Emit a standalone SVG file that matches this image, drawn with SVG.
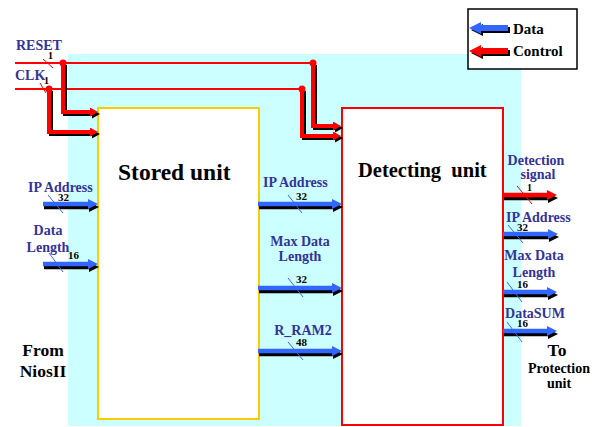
<svg xmlns="http://www.w3.org/2000/svg" width="599" height="427" viewBox="0 0 599 427">
<style>
text{font-family:"Liberation Serif","Times New Roman",Times,"DejaVu Serif",serif;font-weight:bold}
.lbl{font-size:14px;fill:#333399}
.num{font-size:11px;fill:#000}
.one{font-size:10px;fill:#000}
.blk{fill:#000}
.title{fill:#000;white-space:pre}
.thin{fill:none;stroke:#ff0000;stroke-width:2}
.ctl{fill:none;stroke:#ff0000;stroke-width:4;marker-end:url(#rh)}
.ctls{fill:none;stroke:#000;stroke-width:4;marker-end:url(#kh)}
.dat{fill:none;stroke:#3366ff;stroke-width:4.5;marker-end:url(#bh)}
.dats{fill:none;stroke:#000;stroke-width:4.5;marker-end:url(#kh2)}
.datr{fill:none;stroke:#ff0000;stroke-width:4.5;marker-end:url(#rh2)}
.sl{stroke:#3366ff;stroke-width:1}
.slr{stroke:#ff0000;stroke-width:1}
</style>
<defs>
<marker id="rh" markerUnits="userSpaceOnUse" markerWidth="8" markerHeight="9" viewBox="0 0 8 9" refX="0" refY="4.5" orient="auto"><path d="M0,0 L8,4.5 L0,9 z" fill="#ff0000"/></marker>
<marker id="kh" markerUnits="userSpaceOnUse" markerWidth="8" markerHeight="9" viewBox="0 0 8 9" refX="0" refY="4.5" orient="auto"><path d="M0,0 L8,4.5 L0,9 z" fill="#000"/></marker>
<marker id="bh" markerUnits="userSpaceOnUse" markerWidth="10" markerHeight="10" viewBox="0 0 10 10" refX="0" refY="5" orient="auto"><path d="M0,0 L10,5 L0,10 z" fill="#3366ff"/></marker>
<marker id="rh2" markerUnits="userSpaceOnUse" markerWidth="10" markerHeight="10" viewBox="0 0 10 10" refX="0" refY="5" orient="auto"><path d="M0,0 L10,5 L0,10 z" fill="#ff0000"/></marker>
<marker id="kh2" markerUnits="userSpaceOnUse" markerWidth="10" markerHeight="10" viewBox="0 0 10 10" refX="0" refY="5" orient="auto"><path d="M0,0 L10,5 L0,10 z" fill="#000"/></marker>
</defs>
<rect width="599" height="427" fill="#ffffff"/>
<rect id="background" x="68" y="54" width="453" height="372" fill="#ccffff"/>

<g id="stored-unit">
<rect x="98" y="108" width="161" height="311" fill="#ffffff" stroke="#ffcc00" stroke-width="2"/>
<text class="title" x="118" y="180" font-size="23.5">Stored unit</text>
</g>
<g id="detecting-unit">
<rect x="342" y="108" width="161" height="317" fill="#ffffff" stroke="#ff0000" stroke-width="2"/>
<text class="title" x="358" y="177" font-size="20.5">Detecting  unit</text>
</g>

<g id="legend">
<rect x="468" y="9" width="109" height="60" fill="#ffffff" stroke="#000" stroke-width="1.5"/>
<path d="M471,30 L483,24 L483,27 L510,27 L510,33 L483,33 L483,36 z" fill="#000"/>
<path d="M469,28 L481,22 L481,25 L508,25 L508,31 L481,31 L481,34 z" fill="#3366ff"/>
<path d="M471,53 L483,47 L483,50 L510,50 L510,56 L483,56 L483,59 z" fill="#000"/>
<path d="M469,51 L481,45 L481,48 L508,48 L508,54 L481,54 L481,57 z" fill="#ff0000"/>
<text class="blk" x="513" y="34" font-size="15">Data</text>
<text class="blk" x="513" y="56" font-size="15">Control</text>
</g>

<g id="connectors">
<path class="thin" d="M15,63 H313"/>
<path class="thin" d="M15,89 H302"/>
<g transform="translate(2,2)">
<path class="ctls" d="M63,63 V112 H90"/>
<path class="ctls" d="M49,89 V132 H90"/>
<path class="ctls" d="M313,63 V126 H333"/>
<path class="ctls" d="M302,89 V136 H333"/>
</g>
<path class="ctl" d="M63,63 V112 H90"/>
<path class="ctl" d="M49,89 V132 H90"/>
<path class="ctl" d="M313,63 V126 H333"/>
<path class="ctl" d="M302,89 V136 H333"/>
<circle cx="63" cy="63" r="3.5" fill="#ff0000"/>
<circle cx="49" cy="89" r="3.5" fill="#ff0000"/>
<circle cx="313" cy="63" r="3.5" fill="#ff0000"/>
<circle cx="302" cy="89" r="3.5" fill="#ff0000"/>
<line class="slr" x1="43" y1="59" x2="53" y2="68"/>
<line class="slr" x1="40" y1="83" x2="46" y2="93"/>

<g transform="translate(1,3)">
<path class="dats" d="M43,204 H88"/>
<path class="dats" d="M43,264 H88"/>
<path class="dats" d="M258,204 H332"/>
<path class="dats" d="M258,288 H332"/>
<path class="dats" d="M258,351 H332"/>
<path class="dats" d="M503,195 H547"/>
<path class="dats" d="M503,234 H548"/>
<path class="dats" d="M503,292 H547"/>
<path class="dats" d="M503,331 H547"/>
</g>
<path class="dat" d="M43,204 H88"/>
<path class="dat" d="M43,264 H88"/>
<path class="dat" d="M258,204 H332"/>
<path class="dat" d="M258,288 H332"/>
<path class="dat" d="M258,351 H332"/>
<path class="datr" d="M503,195 H547"/>
<path class="dat" d="M503,234 H548"/>
<path class="dat" d="M503,292 H547"/>
<path class="dat" d="M503,331 H547"/>

<line class="sl" x1="48" y1="195" x2="63" y2="213"/>
<line class="sl" x1="49" y1="253" x2="63" y2="272"/>
<line class="sl" x1="288" y1="195" x2="302" y2="213"/>
<line class="sl" x1="288" y1="278" x2="303" y2="297"/>
<line class="sl" x1="288" y1="342" x2="303" y2="360"/>
<line class="slr" x1="517" y1="186" x2="532" y2="204"/>
<line class="sl" x1="508" y1="225" x2="523" y2="243"/>
<line class="sl" x1="507" y1="282" x2="522" y2="302"/>
<line class="sl" x1="507" y1="322" x2="522" y2="342"/>

<text class="one" x="48" y="59">1</text>
<text class="one" x="44" y="84">1</text>
<text class="num" x="58" y="201">32</text>
<text class="num" x="68" y="259">16</text>
<text class="num" x="296" y="200">32</text>
<text class="num" x="296" y="283">32</text>
<text class="num" x="296" y="346">48</text>
<text class="one" x="527" y="191">1</text>
<text class="num" x="517" y="231">32</text>
<text class="num" x="517" y="288">16</text>
<text class="num" x="517" y="327">16</text>

<text class="lbl" x="16" y="50">RESET</text>
<text class="lbl" x="15" y="80">CLK</text>
<text class="lbl" x="28" y="192">IP Address</text>
<text class="lbl" x="48" y="235" text-anchor="middle">Data</text>
<text class="lbl" x="48" y="252" text-anchor="middle">Length</text>
<text class="lbl" x="263" y="187">IP Address</text>
<text class="lbl" x="300" y="246" text-anchor="middle">Max Data</text>
<text class="lbl" x="300" y="261" text-anchor="middle">Length</text>
<text class="lbl" x="303" y="335" text-anchor="middle">R_RAM2</text>
<text class="lbl" x="536" y="165" text-anchor="middle">Detection</text>
<text class="lbl" x="538" y="179" text-anchor="middle">signal</text>
<text class="lbl" x="506" y="222">IP Address</text>
<text class="lbl" x="534" y="260" text-anchor="middle">Max Data</text>
<text class="lbl" x="534" y="277" text-anchor="middle">Length</text>
<text class="lbl" x="535" y="318" text-anchor="middle">DataSUM</text>
</g>

<g id="from-niosii">
<text class="blk" x="43" y="356" font-size="17.5" text-anchor="middle">From</text>
<text class="blk" x="43" y="377" font-size="17.5" text-anchor="middle">NiosII</text>
</g>
<g id="to-protection">
<text class="blk" x="557" y="356" font-size="17.5" text-anchor="middle">To</text>
<text class="blk" x="559" y="373" font-size="14" text-anchor="middle">Protection</text>
<text class="blk" x="559" y="388" font-size="14" text-anchor="middle">unit</text>
</g>
</svg>
